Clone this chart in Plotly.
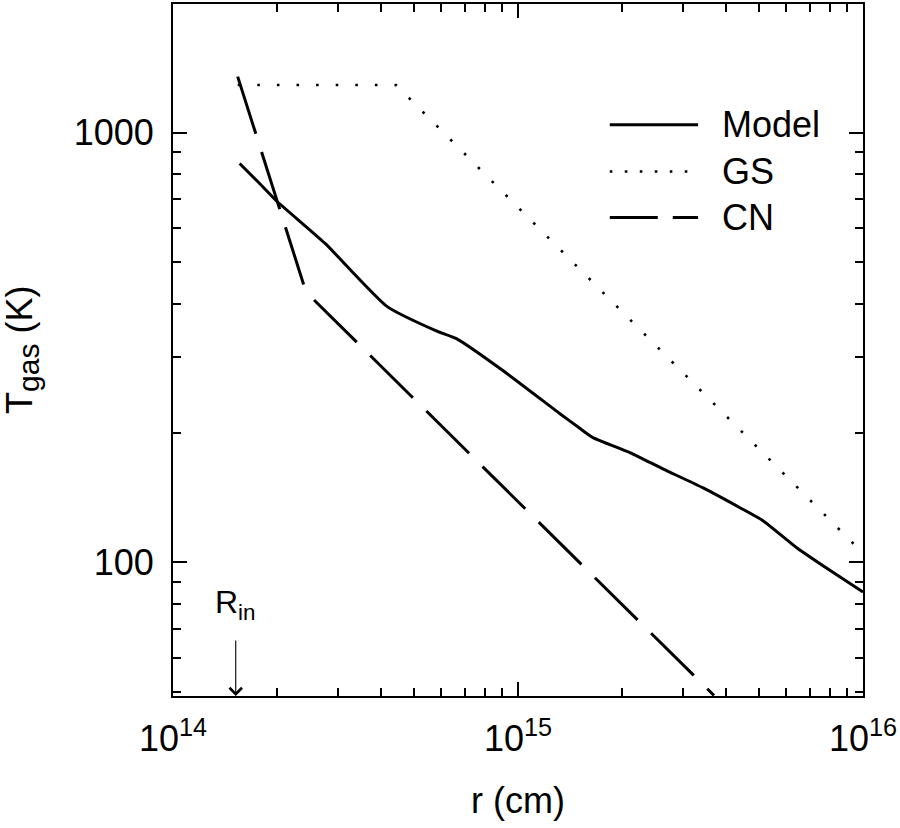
import math
import plotly.graph_objects as go

# ---------------- data ----------------
r_model = [1.56e14, 1.76e14, 2.00e14, 2.76e14, 4.17e14, 5.82e14, 6.65e14, 9.06e14,
           1.32e15, 1.51e15, 1.65e15, 2.11e15, 2.63e15, 3.44e15, 4.40e15, 5.13e15,
           6.44e15, 8.18e15, 1.00e16]
T_model = [847, 769, 692, 552, 394, 345, 331, 279,
           222, 205, 195, 180, 165, 149, 134, 125,
           108, 94.8, 85.3]

r_gs = [1.54e14, 4.43e14, 1.0e16]
T_gs = [1290, 1290, 105]

r_cn = [1.54e14, 2.40e14, 2.47e14, 3.7e15]
T_cn = [1349, 439, 420, 49]

R_in = 1.52e14

x_major = [1e14, 1e15, 1e16]
x_major_text = ["10<sup>14</sup>", "10<sup>15</sup>", "10<sup>16</sup>"]
x_minor = [k * 10.0 ** e for e in (14, 15) for k in range(2, 10)]
y_major = [100, 1000]
y_major_text = ["100", "1000"]
y_minor = [50, 60, 70, 80, 90, 200, 300, 400, 500, 600, 700, 800, 900]

series_names = ["Model", "GS", "CN"]

FONT = "Liberation Sans, Arial, Helvetica, sans-serif"
CN_DASH = "60px,19px"
GS_DASH = "2.6px,17px"

fig = go.Figure()
fig.add_trace(go.Scatter(x=r_model, y=T_model, mode="lines", name=series_names[0],
                         line=dict(color="black", width=3, shape="spline", smoothing=0.5),
                         showlegend=False))
fig.add_trace(go.Scatter(x=r_gs, y=T_gs, mode="lines", name=series_names[1],
                         line=dict(color="black", width=2.6, dash=GS_DASH), showlegend=False))
fig.add_trace(go.Scatter(x=r_cn, y=T_cn, mode="lines", name=series_names[2],
                         line=dict(color="black", width=3, dash=CN_DASH), showlegend=False))

axis_common = dict(showline=True, linewidth=2, linecolor="black", mirror="ticks",
                   ticks="inside", ticklen=14, tickwidth=1.6, tickcolor="black",
                   showgrid=False, zeroline=False,
                   tickfont=dict(family=FONT, size=36, color="black"))

fig.update_xaxes(type="log", range=[14, 16], tickmode="array", tickvals=x_major,
                 ticktext=x_major_text, ticklabelstandoff=10,
                 minor=dict(tickmode="array", tickvals=x_minor, ticks="inside",
                            ticklen=8, tickwidth=1.6, tickcolor="black", showgrid=False),
                 **axis_common)
fig.update_yaxes(type="log", range=[1.689, 3.299], tickmode="array", tickvals=y_major,
                 ticktext=y_major_text, ticklabelstandoff=10,
                 minor=dict(tickmode="array", tickvals=y_minor, ticks="inside",
                            ticklen=8, tickwidth=1.6, tickcolor="black", showgrid=False),
                 **axis_common)

# manual legend
legend_y = [0.8256, 0.758, 0.6916]
legend_dash = ["solid", "2.6px,12.4px", "48px,15px"]
legend_w = [3, 2.6, 3]
shapes = []
annotations = []
for name, yy, dsh, w in zip(series_names, legend_y, legend_dash, legend_w):
    shapes.append(dict(type="line", xref="paper", yref="paper", x0=0.633, x1=0.761,
                       y0=yy, y1=yy, line=dict(color="black", width=w, dash=dsh)))
    annotations.append(dict(xref="paper", yref="paper", x=0.793, y=yy, text=name,
                            showarrow=False, xanchor="left", yanchor="middle",
                            font=dict(family=FONT, size=36, color="black")))

# axis titles
annotations.append(dict(xref="paper", yref="paper", x=0.5, y=-0.151, text="r (cm)",
                        showarrow=False, xanchor="center", yanchor="middle",
                        font=dict(family=FONT, size=36, color="black")))
annotations.append(dict(xref="paper", yref="paper", x=-0.219, y=0.5,
                        text="T<sub><span style=\"font-size:30px\">gas</span></sub> (K)",
                        textangle=-90,
                        showarrow=False, xanchor="center", yanchor="middle",
                        font=dict(family=FONT, size=36, color="black")))

# R_in marker
annotations.append(dict(x=math.log10(R_in), y=1.689, xref="x", yref="y",
                        text="", showarrow=True, ax=0, ay=-57, axref="pixel", ayref="pixel",
                        arrowhead=4, arrowsize=2.2, arrowwidth=1.1, arrowcolor="black"))
annotations.append(dict(x=math.log10(R_in), y=1.689, xref="x", yref="y",
                        text="R<sub>in</sub>", showarrow=False, xanchor="center",
                        yanchor="middle", yshift=92, xshift=0,
                        font=dict(family=FONT, size=32, color="black")))

fig.update_layout(width=900, height=828, margin=dict(l=173, r=37, t=2, b=132),
                  plot_bgcolor="white", paper_bgcolor="white",
                  shapes=shapes, annotations=annotations, showlegend=False)

fig.write_html("out.html", config={"displayModeBar": False},
               post_script="document.body.style.margin='0px';document.body.style.overflow='hidden';")
